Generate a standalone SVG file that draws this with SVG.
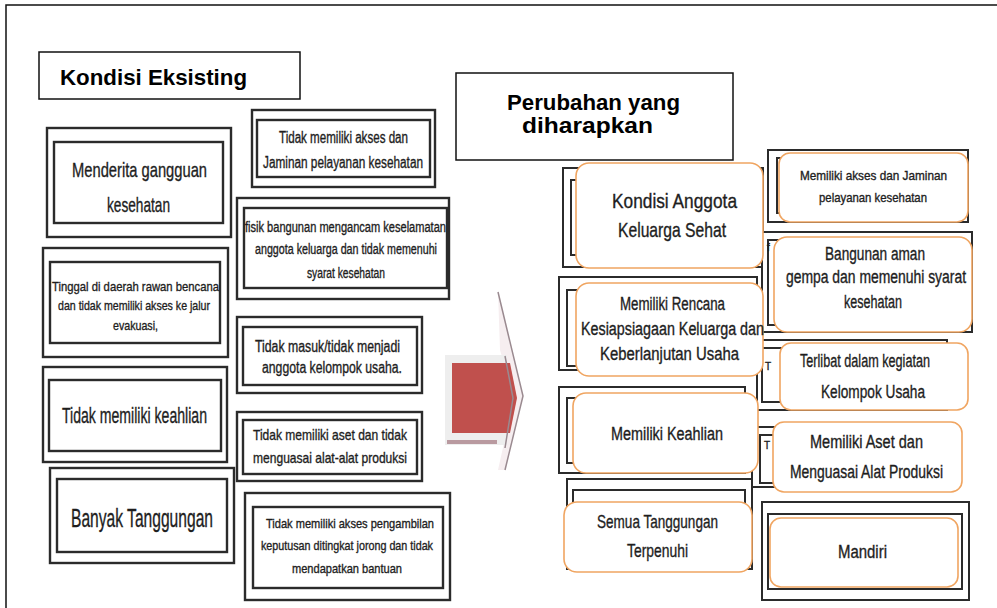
<svg xmlns="http://www.w3.org/2000/svg" width="997" height="608" viewBox="0 0 997 608">
  <style>
    .frame { fill: none; stroke: #111; stroke-width: 1.5; }
    .ob { fill: #fff; stroke: #2b2b2b; stroke-width: 2.4; }
    .ib { fill: #fff; stroke: #2b2b2b; stroke-width: 2.4; }
    .ub { fill: #fff; stroke: #2b2b2b; stroke-width: 2; }
    .card { fill: #fff; stroke: #f0a561; stroke-width: 1.6; }
    .t { font-family: "Liberation Sans Narrow", "Liberation Sans", Arial, sans-serif; fill: #1e1e1e; stroke: #1e1e1e; stroke-width: 0.35; }
    .h { font-family: "Liberation Sans", Arial, sans-serif; font-weight: bold; fill: #000; }
  </style>

  <!-- page frame -->
  <path class="frame" d="M6,608 V5 H997"/>

  <!-- headings -->
  <g id="heading-left">
    <rect x="39" y="52" width="261" height="47" fill="#fff" stroke="#111" stroke-width="1.5"/>
    <text class="h" x="60" y="85" font-size="21.5" textLength="187" lengthAdjust="spacingAndGlyphs">Kondisi Eksisting</text>
  </g>
  <g id="heading-right">
    <rect x="456" y="73" width="277" height="87" fill="#fff" stroke="#111" stroke-width="1.5"/>
    <text class="h" x="507" y="110" font-size="21.5" textLength="173" lengthAdjust="spacingAndGlyphs">Perubahan yang</text>
    <text class="h" x="522" y="133" font-size="21.5" textLength="131" lengthAdjust="spacingAndGlyphs">diharapkan</text>
  </g>

  <!-- left column: existing condition -->
  <g id="n-menderita">
    <rect class="ob" x="47" y="128" width="184" height="109"/>
    <rect class="ib" x="54" y="142" width="169" height="81"/>
    <text class="t" x="72" y="177" font-size="21" textLength="135" lengthAdjust="spacingAndGlyphs">Menderita gangguan</text>
    <text class="t" x="107" y="212" font-size="21" textLength="63" lengthAdjust="spacingAndGlyphs">kesehatan</text>
  </g>
  <g id="n-tinggal">
    <rect class="ob" x="43" y="248" width="185" height="109"/>
    <rect class="ib" x="50" y="262" width="170" height="81"/>
    <text class="t" x="52" y="291" font-size="13.5" textLength="167" lengthAdjust="spacingAndGlyphs">Tinggal di daerah rawan bencana</text>
    <text class="t" x="58" y="310" font-size="13.5" textLength="152" lengthAdjust="spacingAndGlyphs">dan tidak memiliki akses ke jalur</text>
    <text class="t" x="113" y="330" font-size="13.5" textLength="45" lengthAdjust="spacingAndGlyphs">evakuasi,</text>
  </g>
  <g id="n-keahlian">
    <rect class="ob" x="43" y="367" width="184" height="95"/>
    <rect class="ib" x="49" y="380" width="172" height="71"/>
    <text class="t" x="62" y="423" font-size="22" textLength="145" lengthAdjust="spacingAndGlyphs">Tidak memiliki keahlian</text>
  </g>
  <g id="n-tanggungan">
    <rect class="ob" x="50" y="468" width="184" height="95"/>
    <rect class="ib" x="57" y="479" width="170" height="73"/>
    <text class="t" x="71" y="527" font-size="26" textLength="142" lengthAdjust="spacingAndGlyphs">Banyak Tanggungan</text>
  </g>

  <!-- second column: existing condition -->
  <g id="n-akses">
    <rect class="ob" x="252" y="110" width="183" height="77"/>
    <rect class="ib" x="257" y="120" width="173" height="57"/>
    <text class="t" x="279" y="143" font-size="16" textLength="129" lengthAdjust="spacingAndGlyphs">Tidak memiliki akses dan</text>
    <text class="t" x="263" y="168" font-size="16" textLength="160" lengthAdjust="spacingAndGlyphs">Jaminan pelayanan kesehatan</text>
  </g>
  <g id="n-bangunan">
    <rect class="ob" x="237" y="198" width="212" height="101"/>
    <rect class="ib" x="244" y="208" width="203" height="80"/>
    <text class="t" x="245" y="232" font-size="14" textLength="201" lengthAdjust="spacingAndGlyphs">fisik bangunan mengancam keselamatan</text>
    <text class="t" x="255" y="254" font-size="14" textLength="182" lengthAdjust="spacingAndGlyphs">anggota keluarga  dan tidak memenuhi</text>
    <text class="t" x="307" y="278" font-size="14" textLength="78" lengthAdjust="spacingAndGlyphs">syarat kesehatan</text>
  </g>
  <g id="n-kelompok">
    <rect class="ob" x="237" y="317" width="185" height="76"/>
    <rect class="ib" x="243" y="327" width="174" height="58"/>
    <text class="t" x="255" y="352" font-size="16" textLength="145" lengthAdjust="spacingAndGlyphs">Tidak masuk/tidak menjadi</text>
    <text class="t" x="262" y="373" font-size="16" textLength="140" lengthAdjust="spacingAndGlyphs">anggota kelompok usaha.</text>
  </g>
  <g id="n-aset">
    <rect class="ob" x="237" y="412" width="185" height="69"/>
    <rect class="ib" x="243" y="420" width="174" height="54"/>
    <text class="t" x="253" y="440" font-size="15" textLength="154" lengthAdjust="spacingAndGlyphs">Tidak memiliki aset dan  tidak</text>
    <text class="t" x="253" y="463" font-size="15" textLength="154" lengthAdjust="spacingAndGlyphs">menguasai alat-alat produksi</text>
  </g>
  <g id="n-keputusan">
    <rect class="ob" x="245" y="493" width="205" height="107"/>
    <rect class="ib" x="253" y="507" width="190" height="81"/>
    <text class="t" x="266" y="528" font-size="13" textLength="168" lengthAdjust="spacingAndGlyphs">Tidak memiliki akses pengambilan</text>
    <text class="t" x="261" y="550" font-size="13" textLength="172" lengthAdjust="spacingAndGlyphs">keputusan ditingkat jorong dan tidak</text>
    <text class="t" x="292" y="573" font-size="13" textLength="110" lengthAdjust="spacingAndGlyphs">mendapatkan bantuan</text>
  </g>

  <!-- transition arrow -->
  <g id="arrow">
    <polygon points="498,292 523,396 505,470 498,470 514,398 500,350" fill="#f6eef0"/>
    <rect x="445" y="355" width="62" height="90" fill="#eeeeee"/>
    <polygon points="452,363 510,363 517,398 510,433 452,433" fill="#c0504d"/>
    <rect x="447" y="440" width="50" height="4" fill="#b99aa0"/>
    <polyline points="498,292 523,396 505,470" fill="none" stroke="#9a8a90" stroke-width="1.5"/>
    <polyline points="505,356 513,398 505,448" fill="none" stroke="#9a8a90" stroke-width="1.5"/>
  </g>

  <!-- expected change: outlined frames behind the cards -->
  <g id="backing">
    <rect class="ub" x="563" y="168" width="200" height="99"/>
    <rect class="ub" x="571" y="180" width="184" height="75"/>
    <rect class="ub" x="559" y="277" width="198" height="93"/>
    <rect class="ub" x="567" y="290" width="184" height="76"/>
    <rect class="ub" x="559" y="387" width="186" height="86"/>
    <rect class="ub" x="567" y="398" width="176" height="65"/>
    <rect class="ub" x="567" y="479" width="185" height="90"/>
    <rect class="ub" x="573" y="490" width="172" height="70"/>
    <rect class="ub" x="768" y="150" width="200" height="72"/>
    <rect class="ub" x="777" y="158" width="180" height="55"/>
    <rect class="ub" x="762" y="232" width="210" height="100"/>
    <rect class="ub" x="768" y="240" width="196" height="85"/>
    <text class="t" x="767" y="251" font-size="10">f</text>
    <rect class="ub" x="757" y="340" width="190" height="70"/>
    <rect class="ub" x="762" y="348" width="180" height="54"/>
    <text class="t" x="765" y="370" font-size="10">T</text>
    <rect class="ub" x="752" y="427" width="190" height="60"/>
    <rect class="ub" x="760" y="435" width="175" height="48"/>
    <text class="t" x="764" y="449" font-size="10">T</text>
    <rect class="ub" x="762" y="502" width="207" height="98"/>
    <rect class="ub" x="768" y="514" width="194" height="75"/>
  </g>

  <!-- expected change: cards -->
  <g id="c-sehat">
    <rect class="card" x="576" y="163" width="187" height="105" rx="13"/>
    <text class="t" x="612" y="208" font-size="21" textLength="125" lengthAdjust="spacingAndGlyphs">Kondisi Anggota</text>
    <text class="t" x="618" y="237" font-size="21" textLength="108" lengthAdjust="spacingAndGlyphs">Keluarga Sehat</text>
  </g>
  <g id="c-rencana">
    <rect class="card" x="576" y="283" width="187" height="93" rx="13"/>
    <text class="t" x="620" y="310" font-size="18" textLength="105" lengthAdjust="spacingAndGlyphs">Memiliki Rencana</text>
    <text class="t" x="581" y="335" font-size="18" textLength="183" lengthAdjust="spacingAndGlyphs">Kesiapsiagaan Keluarga dan</text>
    <text class="t" x="600" y="360" font-size="18" textLength="139" lengthAdjust="spacingAndGlyphs">Keberlanjutan Usaha</text>
  </g>
  <g id="c-keahlian">
    <rect class="card" x="573" y="393" width="185" height="80" rx="13"/>
    <text class="t" x="611" y="440" font-size="18" textLength="112" lengthAdjust="spacingAndGlyphs">Memiliki Keahlian</text>
  </g>
  <g id="c-tanggungan">
    <rect class="card" x="564" y="502" width="188" height="70" rx="13"/>
    <text class="t" x="597" y="528" font-size="19" textLength="121" lengthAdjust="spacingAndGlyphs">Semua Tanggungan</text>
    <text class="t" x="627" y="557" font-size="19" textLength="61" lengthAdjust="spacingAndGlyphs">Terpenuhi</text>
  </g>
  <g id="c-akses">
    <rect class="card" x="779" y="153" width="189" height="69" rx="11"/>
    <text class="t" x="800" y="180" font-size="13" textLength="147" lengthAdjust="spacingAndGlyphs">Memiliki akses dan Jaminan</text>
    <text class="t" x="819" y="202" font-size="13" textLength="108" lengthAdjust="spacingAndGlyphs">pelayanan kesehatan</text>
  </g>
  <g id="c-bangunan">
    <rect class="card" x="774" y="237" width="198" height="95" rx="13"/>
    <text class="t" x="825" y="260" font-size="18" textLength="100" lengthAdjust="spacingAndGlyphs">Bangunan aman</text>
    <text class="t" x="786" y="283" font-size="18" textLength="180" lengthAdjust="spacingAndGlyphs">gempa dan memenuhi syarat</text>
    <text class="t" x="844" y="308" font-size="18" textLength="58" lengthAdjust="spacingAndGlyphs">kesehatan</text>
  </g>
  <g id="c-kelompok">
    <rect class="card" x="780" y="343" width="188" height="67" rx="11"/>
    <text class="t" x="800" y="367" font-size="18" textLength="130" lengthAdjust="spacingAndGlyphs">Terlibat dalam kegiatan</text>
    <text class="t" x="821" y="398" font-size="18" textLength="104" lengthAdjust="spacingAndGlyphs">Kelompok Usaha</text>
  </g>
  <g id="c-aset">
    <rect class="card" x="773" y="422" width="189" height="70" rx="11"/>
    <text class="t" x="810" y="448" font-size="18" textLength="113" lengthAdjust="spacingAndGlyphs">Memiliki Aset dan</text>
    <text class="t" x="790" y="478" font-size="18" textLength="153" lengthAdjust="spacingAndGlyphs">Menguasai Alat Produksi</text>
  </g>
  <g id="c-mandiri">
    <rect class="card" x="770" y="518" width="188" height="69" rx="11"/>
    <text class="t" x="838" y="558" font-size="18" textLength="49" lengthAdjust="spacingAndGlyphs">Mandiri</text>
  </g>
</svg>
